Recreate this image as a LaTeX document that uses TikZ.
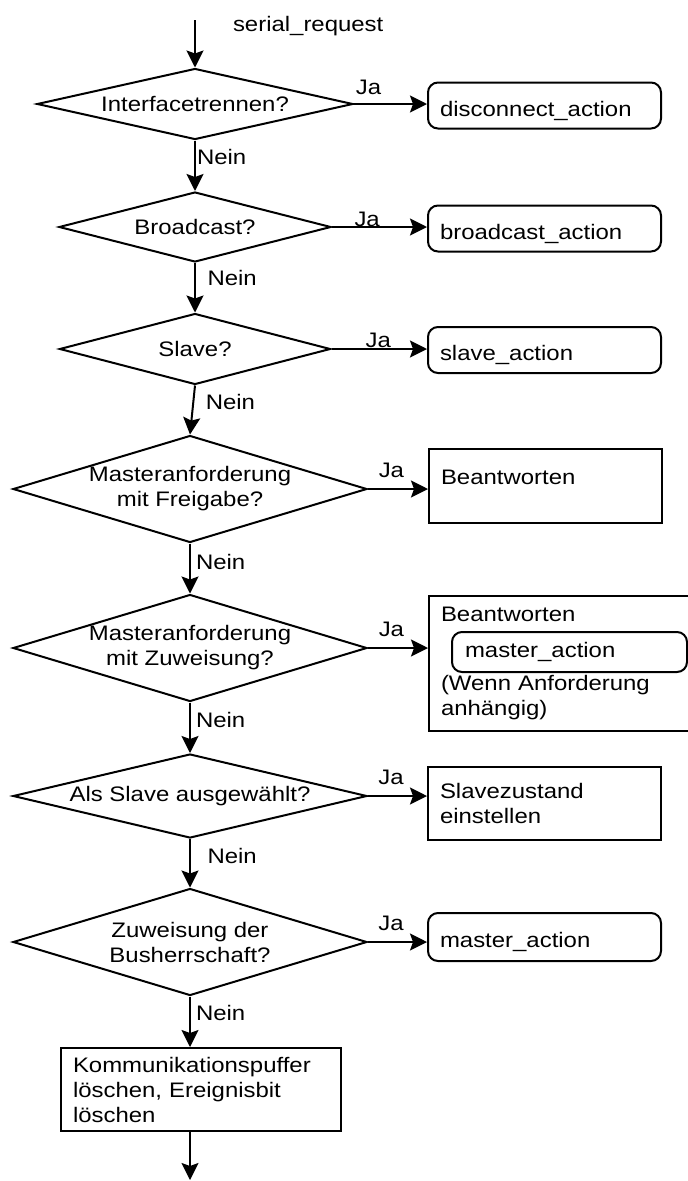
\documentclass[tikz,border=0pt]{standalone}
\usepackage{fontspec}
\setmainfont{Liberation Sans}[FakeStretch=1.14]
\usepackage{tikz}
\usetikzlibrary{arrows.meta,shapes.geometric}

\begin{document}
\begin{tikzpicture}[x=1pt,y=-1pt,line width=2pt,
  >={Stealth[length=17pt,width=17pt,inset=3pt]},
  font=\fontsize{21pt}{25pt}\selectfont,
  frage/.style={diamond,draw,inner sep=-6pt,align=center},
  aktion/.style={draw,rounded corners=10pt,inner xsep=12pt,text width=209pt,
    minimum height=46pt,text height=21pt,text depth=0pt,align=left},
  kasten/.style={draw,inner xsep=12pt,align=left},
  ja/.style={inner sep=0pt,anchor=base},
  nein/.style={inner sep=0pt,anchor=west}]
\useasboundingbox (0,0) rectangle (688,1181);
\clip (0,0) rectangle (688,1181);
% Eingang
\coordinate (start) at (195,20);
\node[inner sep=0pt,anchor=base west] (eingang) at (232,31) {serial\_request};
% Abfragen, von oben nach unten
\node[frage,aspect=4.45,minimum width=316pt,minimum height=71pt] (f1) at (195,104) {Interfacetrennen?};
\node[frage,aspect=3.9,minimum width=272pt,minimum height=70pt] (f2) at (195,227) {Broadcast?};
\node[frage,aspect=3.8,minimum width=271pt,minimum height=71pt] (f3) at (195,349) {Slave?};
\node[frage,aspect=3.3,minimum width=354pt,minimum height=107pt] (f4) at (190,489) {Masteranforderung\\mit Freigabe?};
\node[frage,aspect=3.3,minimum width=354pt,minimum height=107pt] (f5) at (190,648) {Masteranforderung\\mit Zuweisung?};
\node[frage,aspect=4.2,minimum width=354pt,minimum height=84pt] (f6) at (190,796) {Als Slave ausgewählt?};
\node[frage,aspect=3.3,minimum width=354pt,minimum height=107pt] (f7) at (190,942) {Zuweisung der\\Busherrschaft?};
% Aktionen rechts
\node[aktion] (a1) at (544.5,105.5) {disconnect\_action};
\node[aktion] (a2) at (544.5,228.5) {broadcast\_action};
\node[aktion] (a3) at (544.5,350) {slave\_action};
\node[kasten,anchor=north west,text width=209pt,inner ysep=16pt,text height=19pt,text depth=23pt] (a4) at (428,448) {Beantworten};
\node[kasten,anchor=north west,text width=256pt,minimum height=135pt] (a5) at (428,595) {Beantworten\\[44pt](Wenn Anforderung\\anhängig)};
\node[aktion,inner xsep=13pt,minimum height=40pt,text height=10pt] (a5m) at (569.5,652) {master\_action};
\node[kasten,text width=209pt,minimum height=73pt] (a6) at (544.5,803.5) {Slavezustand\\einstellen};
\node[aktion,minimum height=48pt] (a7) at (544.5,937) {master\_action};
% Abschluss
\node[kasten,text width=256pt,minimum height=83pt] (a8) at (201,1089.5) {Kommunikationspuffer\\löschen, Ereignisbit\\löschen};
\coordinate (ende) at (190,1180);
% Ja-Zweige
\draw[->] (f1.east) -- (f1.east -| a1.west) node[ja,pos=.2,yshift=10pt] (ja1) {Ja};
\draw[->] (f2.east) -- (f2.east -| a2.west) node[ja,pos=.37,yshift=1pt] (ja2) {Ja};
\draw[->] (f3.east) -- (f3.east -| a3.west) node[ja,pos=.49,yshift=2pt] (ja3) {Ja};
\draw[->] (f4.east) -- (f4.east -| a4.west) node[ja,pos=.39,yshift=12pt] (ja4) {Ja};
\draw[->] (f5.east) -- (f5.east -| a5.west) node[ja,pos=.39,yshift=12pt] (ja5) {Ja};
\draw[->] (f6.east) -- (f6.east -| a6.west) node[ja,pos=.39,yshift=12pt] (ja6) {Ja};
\draw[->] (f7.east) -- (f7.east -| a7.west) node[ja,pos=.39,yshift=12pt] (ja7) {Ja};
% Nein-Zweige
\draw[->] (start) -- (f1.north);
\draw[->] (f1.south) -- (f2.north) node[nein,pos=.33,xshift=1pt] (n1) {Nein};
\draw[->] (f2.south) -- (f3.north) node[nein,pos=.31,xshift=11.5pt] (n2) {Nein};
\draw[->] (f3.south) -- (f4.north) node[nein,pos=.34,xshift=11.5pt] (n3) {Nein};
\draw[->] (f4.south) -- (f5.north) node[nein,pos=.375,xshift=5pt] (n4) {Nein};
\draw[->] (f5.south) -- (f6.north) node[nein,pos=.35,xshift=5pt] (n5) {Nein};
\draw[->] (f6.south) -- (f7.north) node[nein,pos=.34,xshift=16.5pt] (n6) {Nein};
\draw[->] (f7.south) -- (f7.south |- a8.north) node[nein,pos=.33,xshift=5pt] (n7) {Nein};
\draw[->] (ende |- a8.south) -- (ende);
\end{tikzpicture}
\end{document}
